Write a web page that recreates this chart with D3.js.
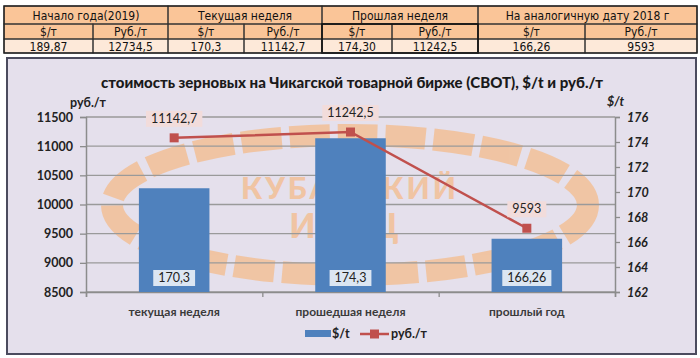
<!DOCTYPE html>
<html><head><meta charset="utf-8">
<script src="https://cdn.jsdelivr.net/npm/d3@7"></script>
<style>body{margin:0;background:#fff}svg{display:block}</style>
</head><body>
<svg id="c" width="700" height="358"></svg>
<script>
// ---- data ----
const tableGroups = ["Начало года(2019)", "Текущая неделя", "Прошлая неделя", "На аналогичную дату 2018 г"];
const tableSubHeaders = ["$/т", "Руб./т", "$/т", "Руб./т", "$/т", "Руб./т", "$/т", "Руб./т"];
const tableValues = ["189,87", "12734,5", "170,3", "11142,7", "174,30", "11242,5", "166,26", "9593"];
const categories = ["текущая неделя", "прошедшая неделя", "прошлый год"];
const usdValues = [170.3, 174.3, 166.26];
const usdLabels = ["170,3", "174,3", "166,26"];
const rubValues = [11142.7, 11242.5, 9593];
const rubLabels = ["11142,7", "11242,5", "9593"];
const leftTicks = [8500, 9000, 9500, 10000, 10500, 11000, 11500];
const rightTicks = [162, 164, 166, 168, 170, 172, 174, 176];
const titleText = "стоимость зерновых на Чикагской товарной бирже (CBOT), $/t и руб./т";

const svg = d3.select("#c");

// ---- table ----
const colEdges = [4, 93, 168, 244, 322, 392, 478, 585, 697];
const rowY = [6, 24, 39, 53];
const tFont = "'DejaVu Sans Condensed','DejaVu Sans',sans-serif";
const tg = svg.append("g");
tg.append("rect").attr("x", colEdges[0]).attr("y", rowY[0]).attr("width", colEdges[8]-colEdges[0]).attr("height", rowY[2]-rowY[0]).attr("fill", "#FAC598");
tg.append("rect").attr("x", colEdges[0]).attr("y", rowY[2]).attr("width", colEdges[8]-colEdges[0]).attr("height", rowY[3]-rowY[2]).attr("fill", "#FDE9D9");
tableGroups.forEach((g, i) => {
  const x0 = colEdges[i*2], x1 = colEdges[i*2+2];
  tg.append("rect").attr("x", x0).attr("y", rowY[0]).attr("width", x1-x0).attr("height", rowY[1]-rowY[0])
    .attr("fill", "none").attr("stroke", "#333").attr("stroke-width", 1);
  tg.append("text").attr("x", (x0+x1)/2).attr("y", (rowY[0]+rowY[1])/2+4.5).attr("text-anchor", "middle")
    .attr("font-family", tFont).attr("font-size", 12).attr("fill", "#111").text(g);
});
[[1, tableSubHeaders], [2, tableValues]].forEach(([r, arr]) => {
  arr.forEach((t, i) => {
    const x0 = colEdges[i], x1 = colEdges[i+1];
    tg.append("rect").attr("x", x0).attr("y", rowY[r]).attr("width", x1-x0).attr("height", rowY[r+1]-rowY[r])
      .attr("fill", "none").attr("stroke", "#333").attr("stroke-width", 1);
    tg.append("text").attr("x", (x0+x1)/2).attr("y", (rowY[r]+rowY[r+1])/2+4.5).attr("text-anchor", "middle")
      .attr("font-family", tFont).attr("font-size", 12).attr("fill", "#111").text(t);
  });
});
tg.append("rect").attr("x", colEdges[4]).attr("y", rowY[1]).attr("width", colEdges[6]-colEdges[4]).attr("height", rowY[3]-rowY[1])
  .attr("fill", "none").attr("stroke", "#111").attr("stroke-width", 1.6);
tg.append("rect").attr("x", colEdges[0]).attr("y", rowY[0]).attr("width", colEdges[8]-colEdges[0]).attr("height", rowY[3]-rowY[0])
  .attr("fill", "none").attr("stroke", "#222").attr("stroke-width", 1.4);

// ---- chart box ----
svg.append("rect").attr("x", 7).attr("y", 58).attr("width", 689).attr("height", 296)
  .attr("fill", "#E5E0EC").attr("stroke", "#4B4B5E").attr("stroke-width", 2);

const font = "Lato, 'Open Sans', sans-serif";
const L = 86, R = 615, T = 117, B = 292;
const x = d3.scaleBand().domain(categories).range([L, R]).paddingInner(0.6).paddingOuter(0.3);
const yL = d3.scaleLinear().domain([8500, 11500]).range([B, T]);
const yR = d3.scaleLinear().domain([162, 176]).range([B, T]);

// ---- watermark ----
const wm = svg.append("g").attr("opacity", 0.8);
wm.append("ellipse").attr("cx", 350).attr("cy", 205).attr("rx", 238).attr("ry", 70)
  .attr("fill", "none").attr("stroke", "#F3BE92").attr("stroke-width", 22)
  .attr("stroke-dasharray", "40 8");
wm.append("text").attr("x", 350).attr("y", 199).attr("text-anchor", "middle")
  .attr("font-family", font).attr("font-weight", 900).attr("font-size", 30).attr("letter-spacing", 3)
  .attr("fill", "#F3BE92").text("КУБАНСКИЙ");
wm.append("text").attr("x", 352).attr("y", 238).attr("text-anchor", "middle")
  .attr("font-family", font).attr("font-weight", 900).attr("font-size", 34).attr("letter-spacing", 16)
  .attr("fill", "#F3BE92").text("ИКЦ");

// ---- gridlines ----
svg.append("g").selectAll("line").data(leftTicks).join("line")
  .attr("x1", L).attr("x2", R).attr("y1", d => yL(d)).attr("y2", d => yL(d))
  .attr("stroke", "#9A9A9A").attr("stroke-width", 1.3);

// ---- axes ----
const axL = svg.append("g").attr("transform", `translate(${L},0)`)
  .call(d3.axisLeft(yL).tickValues(leftTicks).tickSize(6).tickPadding(7).tickFormat(d3.format("d")));
const axR = svg.append("g").attr("transform", `translate(${R},0)`)
  .call(d3.axisRight(yR).tickValues(rightTicks).tickSize(5).tickPadding(7).tickFormat(d3.format("d")));
const xPos = d3.scaleLinear().domain([0, 3]).range([L, R]);
const axB = svg.append("g").attr("transform", `translate(0,${B})`)
  .call(d3.axisBottom(xPos).tickValues([0, 1, 2, 3]).tickSize(5).tickFormat(""));
[axL, axR, axB].forEach(a => {
  a.selectAll(".domain").attr("stroke", "#8C8C8C").attr("stroke-width", 1.5);
  a.selectAll(".tick line").attr("stroke", "#8C8C8C").attr("stroke-width", 1.3);
});
axL.selectAll("text").attr("font-family", font).attr("font-weight", 700).attr("font-size", 12.5).attr("fill", "#222");
axR.selectAll("text").attr("font-family", font).attr("font-weight", 700).attr("font-style", "italic").attr("font-size", 12.5).attr("fill", "#222");

// ---- bars ----
svg.append("g").selectAll("rect").data(categories).join("rect")
  .attr("x", d => x(d)).attr("width", x.bandwidth())
  .attr("y", (d, i) => yR(usdValues[i])).attr("height", (d, i) => B - yR(usdValues[i]))
  .attr("fill", "#4F81BD");

// ---- line ----
const line = d3.line().x((d, i) => x(categories[i]) + x.bandwidth()/2).y(d => yL(d));
svg.append("path").datum(rubValues).attr("d", line).attr("fill", "none")
  .attr("stroke", "#C0504D").attr("stroke-width", 2.5);
svg.append("g").selectAll("rect").data(rubValues).join("rect")
  .attr("x", (d, i) => x(categories[i]) + x.bandwidth()/2 - 4.5).attr("y", d => yL(d) - 4.5)
  .attr("width", 9).attr("height", 9).attr("fill", "#C0504D");

// ---- data labels ----
function label(g, cx, cy, txt, bg) {
  const t = g.append("text").attr("x", cx).attr("y", cy + 4).attr("text-anchor", "middle")
    .attr("font-family", font).attr("font-size", 12.5).attr("fill", "#222").text(txt);
  const bb = t.node().getBBox();
  g.insert("rect", "text").attr("x", bb.x - 5).attr("y", cy - 8).attr("width", bb.width + 10).attr("height", 16).attr("fill", bg);
}
const lg = svg.append("g");
rubValues.forEach((v, i) => {
  label(lg.append("g"), x(categories[i]) + x.bandwidth()/2, yL(v) - 19, rubLabels[i], "#F2DCDB");
});
usdValues.forEach((v, i) => {
  label(lg.append("g"), x(categories[i]) + x.bandwidth()/2, 278, usdLabels[i], "#DCE6F2");
});

// ---- category labels ----
svg.append("g").selectAll("text").data(categories).join("text")
  .attr("x", d => x(d) + x.bandwidth()/2).attr("y", 316).attr("text-anchor", "middle")
  .attr("font-family", font).attr("font-weight", 700).attr("font-size", 12).attr("fill", "#3A3A3A").text(d => d);

// ---- titles ----
svg.append("text").attr("x", 352).attr("y", 88).attr("text-anchor", "middle")
  .attr("font-family", font).attr("font-weight", 900).attr("font-size", 15).attr("fill", "#1a1a1a").text(titleText);
svg.append("text").attr("x", 70).attr("y", 107)
  .attr("font-family", font).attr("font-weight", 700).attr("font-size", 12.5).attr("fill", "#222").text("руб./т");
svg.append("text").attr("x", 607).attr("y", 106)
  .attr("font-family", font).attr("font-weight", 700).attr("font-style", "italic").attr("font-size", 12.5).attr("fill", "#222").text("$/t");

// ---- legend ----
const leg = svg.append("g");
leg.append("rect").attr("x", 305).attr("y", 330).attr("width", 26).attr("height", 7).attr("fill", "#4F81BD");
leg.append("text").attr("x", 332).attr("y", 338).attr("font-family", font).attr("font-weight", 700).attr("font-size", 12.5).attr("fill", "#222").text("$/t");
leg.append("line").attr("x1", 360).attr("x2", 389).attr("y1", 334).attr("y2", 334).attr("stroke", "#C0504D").attr("stroke-width", 2.5);
leg.append("rect").attr("x", 370).attr("y", 329.5).attr("width", 9).attr("height", 9).attr("fill", "#C0504D");
leg.append("text").attr("x", 391).attr("y", 338).attr("font-family", font).attr("font-weight", 700).attr("font-size", 12.5).attr("fill", "#222").text("руб./т");
</script>
</body></html>
